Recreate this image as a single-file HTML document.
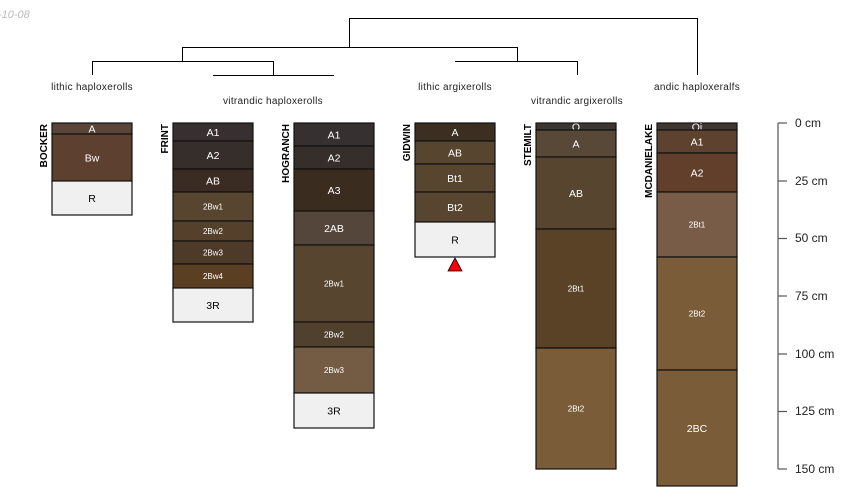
<!DOCTYPE html>
<html><head><meta charset="utf-8"><style>body{margin:0;background:#fff}svg{display:block}text{font-family:"Liberation Sans",sans-serif}</style></head><body>
<svg width="850" height="500" viewBox="0 0 850 500" xmlns="http://www.w3.org/2000/svg">
<text x="-2" y="18" font-size="11" font-style="italic" fill="#bbb">-10-08</text>
<g stroke="#000" stroke-width="1" fill="none">
<path d="M349.5 47V18.5H697.5V75"/>
<path d="M182.5 61V47.5H517.5V61"/>
<path d="M92.5 75V61.5H273.5V75"/>
<path d="M213 75.5H334"/>
<path d="M455 61.5H577.5V75"/>
</g>
<g font-size="10" fill="#222" text-anchor="middle" letter-spacing="0.3">
<text x="92" y="90">lithic haploxerolls</text>
<text x="273" y="104">vitrandic haploxerolls</text>
<text x="455" y="90">lithic argixerolls</text>
<text x="577" y="104">vitrandic argixerolls</text>
<text x="697" y="90">andic haploxeralfs</text>
</g>
<g id="p" stroke="#111" stroke-width="1.2"></g>
<g font-size="10" font-weight="bold" fill="#000">
<text transform="translate(47,124) rotate(-90)" text-anchor="end">BOCKER</text>
<text transform="translate(168,124) rotate(-90)" text-anchor="end">FRINT</text>
<text transform="translate(289,124) rotate(-90)" text-anchor="end">HOGRANCH</text>
<text transform="translate(410,124) rotate(-90)" text-anchor="end">GIDWIN</text>
<text transform="translate(531,124) rotate(-90)" text-anchor="end">STEMILT</text>
<text transform="translate(652,124) rotate(-90)" text-anchor="end">MCDANIELAKE</text>
</g>
<polygon points="455,258 448,271 462,271" fill="#f00" stroke="#000" stroke-width="0.8"/>
<g stroke="#555" stroke-width="1.2"><line x1="778" y1="123" x2="778" y2="469"/>
<line x1="778" y1="123" x2="787" y2="123"/><line x1="778" y1="181" x2="787" y2="181"/><line x1="778" y1="238.5" x2="787" y2="238.5"/><line x1="778" y1="296" x2="787" y2="296"/><line x1="778" y1="354" x2="787" y2="354"/><line x1="778" y1="411.5" x2="787" y2="411.5"/><line x1="778" y1="469" x2="787" y2="469"/></g>
<g font-size="12" fill="#222"><text x="795" y="127">0 cm</text><text x="795" y="185">25 cm</text><text x="795" y="242">50 cm</text><text x="795" y="300">75 cm</text><text x="795" y="358">100 cm</text><text x="795" y="415">125 cm</text><text x="795" y="473">150 cm</text></g>
</svg>
<script>
var P=[[52,[[123,134,'#5a4538','A'],[134,181,'#5e4030','Bw'],[181,215,'#f0f0f0','R']]],
[173,[[123,141,'#383030','A1'],[141,169,'#362e2a','A2'],[169,192,'#3a2c22','AB'],[192,221,'#574530','2Bw1',1],[221,241,'#55402c','2Bw2',1],[241,264,'#4e3a28','2Bw3',1],[264,288,'#5b3f22','2Bw4',1],[288,322,'#f0f0f0','3R']]],
[294,[[123,146,'#363030','A1'],[146,169,'#352e2b','A2'],[169,211,'#3b2c20','A3'],[211,245,'#54463a','2AB'],[245,322,'#574530','2Bw1',1],[322,347,'#50402e','2Bw2',1],[347,393,'#735b44','2Bw3',1],[393,428,'#f0f0f0','3R']]],
[415,[[123,141,'#3d2e22','A'],[141,164,'#574530','AB'],[164,192,'#574530','Bt1'],[192,222,'#574530','Bt2'],[222,257,'#f0f0f0','R']]],
[536,[[123,130,'#3c3530','O'],[130,157,'#574838','A'],[157,229,'#574530','AB'],[229,348,'#5a4226','2Bt1',1],[348,469,'#7a5c38','2Bt2',1]]],
[657,[[123,130,'#403830','Oi'],[130,153,'#5e4230','A1'],[153,192,'#623f2a','A2'],[192,257,'#785c48','2Bt1',1],[257,370,'#7a5c38','2Bt2',1],[370,486,'#7a5c38','2BC']]]];
var g=document.getElementById('p'),s='';
P.forEach(function(p){var x=p[0];p[1].forEach(function(h){var c=h[2]=='#f0f0f0'?'#000':'#fff';var fs=h[4]?8:10.5;
s+='<rect x="'+x+'" y="'+h[0]+'" width="80" height="'+(h[1]-h[0])+'" fill="'+h[2]+'"/>';
s+='<text x="'+(x+40)+'" y="'+((h[0]+h[1])/2+fs*0.36)+'" font-size="'+fs+'" text-anchor="middle" fill="'+c+'" stroke="none">'+h[3]+'</text>';});});
g.innerHTML=s;
</script>
</body></html>
